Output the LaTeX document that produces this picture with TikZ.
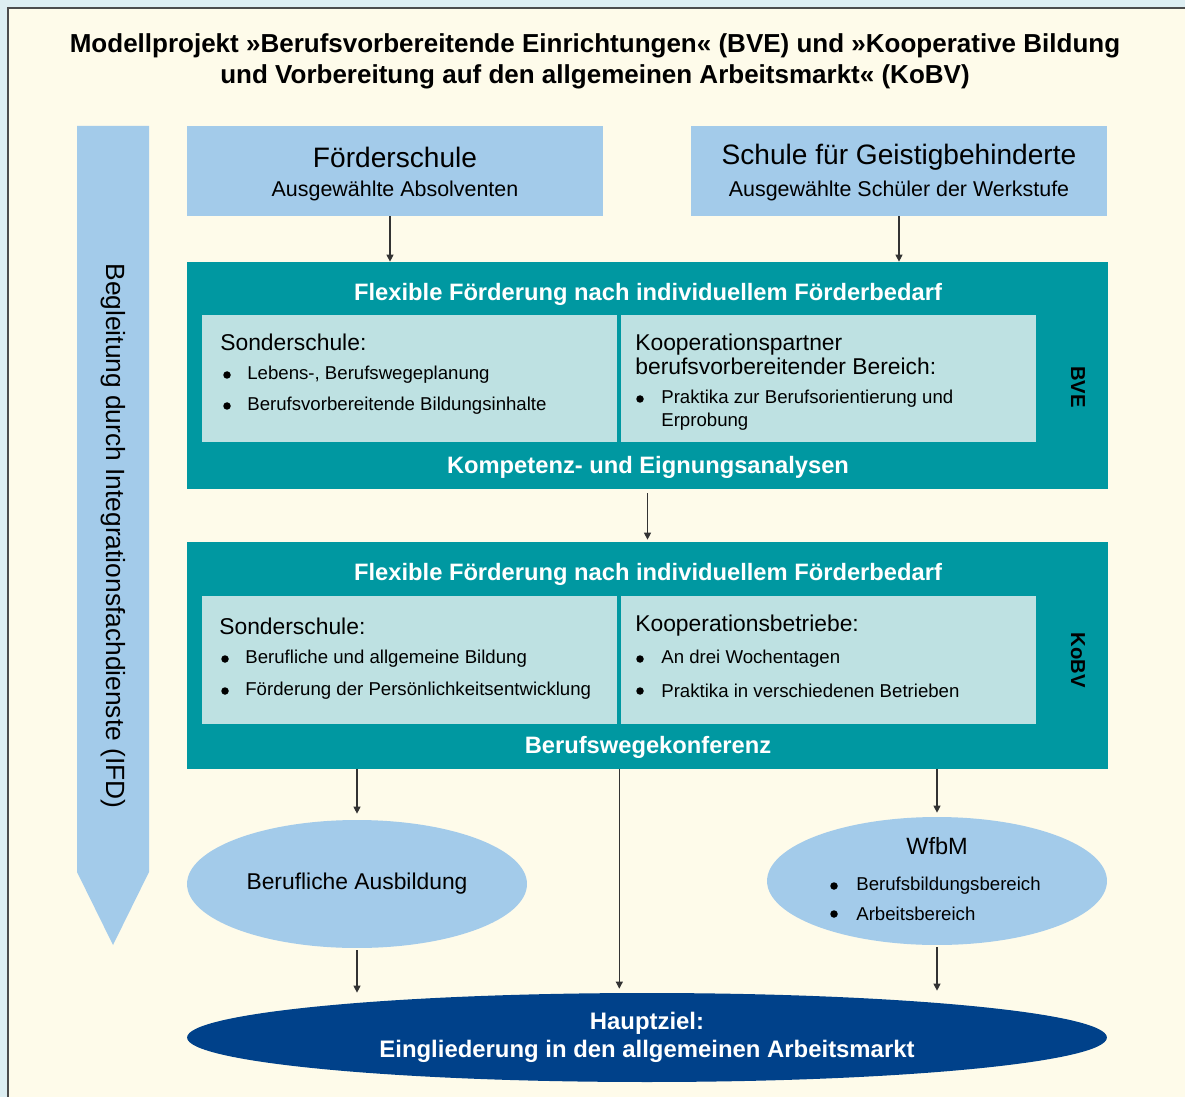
\documentclass[tikz,border=0pt]{standalone}
\usepackage{fontspec}
\setmainfont{Liberation Sans}
\usetikzlibrary{arrows.meta,shapes.geometric,positioning}

\definecolor{outerbg}{HTML}{DDEEF2}
\definecolor{cream}{HTML}{FEFBEA}
\definecolor{skyblue}{HTML}{A3CBEA}
\definecolor{petrol}{HTML}{0098A1}
\definecolor{paleteal}{HTML}{BEE1E2}
\definecolor{navyblue}{HTML}{00418A}
\definecolor{arrowgray}{HTML}{333333}

\tikzset{
    schoolbox/.style={fill=skyblue, minimum width=8.32cm, minimum height=1.8cm, inner sep=0},
    band/.style={fill=petrol, minimum width=18.42cm, minimum height=4.54cm, inner sep=0},
    panel/.style={fill=paleteal, minimum width=8.3cm, minimum height=2.55cm, inner sep=0},
    goal/.style={ellipse, fill=skyblue, minimum width=6.8cm, minimum height=2.56cm, inner sep=0},
    headline/.style={font=\bfseries\fontsize{14.8}{17.6}\selectfont, align=center},
    boxhead/.style={font=\fontsize{16}{18}\selectfont, inner sep=0},
    boxsub/.style={font=\fontsize{12.2}{14}\selectfont, inner sep=0},
    bandtitle/.style={font=\bfseries\fontsize{13.5}{15}\selectfont, text=white, inner sep=0},
    sidelabel/.style={font=\bfseries\fontsize{11.5}{14}\selectfont, rotate=-90, inner sep=0},
    subhead/.style={font=\fontsize{13}{14}\selectfont, anchor=west, inner sep=0, align=left},
    itemtext/.style={font=\fontsize{10.6}{13}\selectfont, anchor=west, inner sep=0, align=left},
    dot/.style={circle, fill=black, inner sep=0, minimum size=0.15cm},
    arr/.style={draw=arrowgray, line width=0.6pt, -{Triangle[length=4pt,width=4pt]}},
}

\begin{document}
\begin{tikzpicture}[x=0.02cm, y=-0.02cm]
    \useasboundingbox (0,0) rectangle (1185,1097);
    \fill[outerbg] (0,0) rectangle (1185,1097);
    \fill[cream] (8,8) rectangle (1185,1097);
    \draw[black!70, line width=0.6pt] (8,1097) -- (8,8) -- (1185,8);

    % title
    \node[headline] (title) at (595,61.5) {Modellprojekt »Berufsvorbereitende Einrichtungen« (BVE) und »Kooperative Bildung\\und Vorbereitung auf den allgemeinen Arbeitsmarkt« (KoBV)};

    % IFD arrow on the left
    \fill[skyblue] (77,126) -- (149,126) -- (149,872) -- (113,945) -- (77,872) -- cycle;
    \node[font=\fontsize{15}{17}\selectfont, rotate=-90, inner sep=0] (ifd) at (113,536) {Begleitung durch Integrationsfachdienste (IFD)};

    % schools
    \node[schoolbox] (foerder) at (395,171) {};
    \node[schoolbox] (schule) at (899,171) {};
    \node[boxhead] at (395,157) {Förderschule};
    \node[boxsub] at (395,191) {Ausgewählte Absolventen};
    \node[boxhead] at (899,157) {Schule für Geistigbehinderte};
    \node[boxsub] at (899,191) {Ausgewählte Schüler der Werkstufe};

    % BVE
    \node[band] (bve) at (647.5,375.5) {};
    \node[panel] (bveL) at (409.5,378.5) {};
    \node[panel] (bveR) at (828.5,378.5) {};
    \node[bandtitle] at (648,294) {Flexible Förderung nach individuellem Förderbedarf};
    \node[bandtitle] at (648,467) {Kompetenz- und Eignungsanalysen};
    \node[sidelabel] at (1078,387) {BVE};
    \node[subhead] at (220,342) {Sonderschule:};
    \foreach \y/\t in {375/{Lebens-, Berufswegeplanung}, 406/{Berufsvorbereitende Bildungsinhalte}} {
        \node[dot] at (227,\y) {};
        \node[itemtext] at (247,\y) {\t};
    }
    \node[subhead] at (635,354.5) {Kooperationspartner\\berufsvorbereitender Bereich:};
    \node[dot] at (640,399) {};
    \node[itemtext] at (661,410.5) {Praktika zur Berufsorientierung und\\Erprobung};

    % KoBV
    \node[band] (kobv) at (647.5,655.5) {};
    \node[panel] (kobvL) at (409.5,660) {};
    \node[panel] (kobvR) at (828.5,660) {};
    \node[bandtitle] at (648,574) {Flexible Förderung nach individuellem Förderbedarf};
    \node[bandtitle] at (648,747) {Berufswegekonferenz};
    \node[sidelabel] at (1078,660) {KoBV};
    \node[subhead] at (219,626) {Sonderschule:};
    \foreach \y/\t in {659/{Berufliche und allgemeine Bildung}, 691/{Förderung der Persönlichkeitsentwicklung}} {
        \node[dot] at (225,\y) {};
        \node[itemtext] at (245,\y) {\t};
    }
    \node[subhead] at (635,626) {Kooperationsbetriebe:};
    \foreach \y/\t in {659/{An drei Wochentagen}, 691/{Praktika in verschiedenen Betrieben}} {
        \node[dot] at (640,\y) {};
        \node[itemtext] at (661,\y) {\t};
    }

    % outcomes
    \node[goal, font=\fontsize{13}{15}\selectfont] (ausb) at (357,884) {Berufliche Ausbildung};
    \node[goal] (wfbm) at (937,881) {};
    \node[font=\fontsize{13.4}{15}\selectfont, inner sep=0] at (937,846) {WfbM};
    \foreach \y/\t in {886/Berufsbildungsbereich, 914/Arbeitsbereich} {
        \node[dot] at (834,\y) {};
        \node[itemtext] at (856,\y) {\t};
    }
    \node[ellipse, fill=navyblue, minimum width=18.4cm, minimum height=1.78cm, inner sep=0,
          text=white, font=\bfseries\fontsize{13.6}{16}\selectfont, align=center] (ziel) at (647,1037.5)
          {Hauptziel:\\Eingliederung in den allgemeinen Arbeitsmarkt};

    % connectors
    \draw[arr] ([xshift=-0.1cm]foerder.south) -- ([xshift=-0.1cm]foerder.south |- bve.north);
    \draw[arr] (schule.south) -- (schule.south |- bve.north);
    \draw[arr, shorten <=0.08cm, shorten >=0.04cm] (bve.south) -- (kobv.north);
    \draw[arr, shorten >=0.12cm] (kobv.south -| ausb.north) -- (ausb.north);
    \draw[arr, shorten >=0.08cm] (kobv.south -| wfbm.north) -- (wfbm.north);
    \draw[arr, shorten >=0.08cm] ([xshift=0.04cm]kobv.south -| kobvL.east) -- ([xshift=0.04cm]ziel.north -| kobvL.east);
    \draw[arr, shorten <=0.04cm] (ausb.south) -- (ausb.south |- ziel.north);
    \draw[arr, shorten <=0.04cm, shorten >=0.04cm] (wfbm.south) -- (wfbm.south |- ziel.north);
\end{tikzpicture}
\end{document}
